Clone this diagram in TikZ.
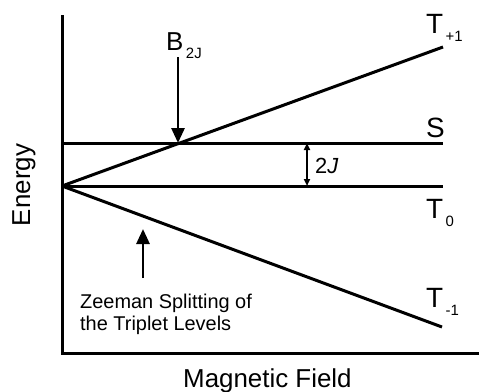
\documentclass[tikz,border=0pt]{standalone}
\usepackage{fontspec}
\setmainfont{Liberation Sans}
\usetikzlibrary{arrows.meta}
\tikzset{
  axisline/.style={line width=3bp, line cap=rect},
  levelline/.style={line width=3bp},
  bigarrow/.style={line width=2.8bp, -{Triangle[length=15bp,width=13bp]}},
  gaparrow/.style={line width=1.8bp, {Triangle[length=7bp,width=6bp]}-{Triangle[length=7bp,width=6bp]}},
  lbl/.style={inner sep=0pt, anchor=base west, font=\fontsize{28}{32}\selectfont},
}
\newcommand{\mysub}[1]{\raisebox{-8bp}{\fontsize{15}{17}\selectfont\,#1}}
\begin{document}
\begin{tikzpicture}[x=1bp,y=-1bp]
\useasboundingbox (0,0) rectangle (479,391);
% axes
\coordinate (ytop) at (62,16);
\coordinate (corner) at (62,353);
\coordinate (xend) at (479,353);
\draw[axisline] (ytop) -- (corner) -- (xend);
% levels
\coordinate (O) at (62,186);
\coordinate (Sl) at (62,143);
\coordinate (Sr) at (443,143);
\coordinate (T0r) at (443,186);
\coordinate (Tpr) at (443,47);
\coordinate (Tmr) at (442,327);
\draw[levelline] (Sl) -- (Sr);
\draw[levelline] (O) -- (T0r);
\draw[levelline] (O) -- (Tpr);
\draw[levelline] (O) -- (Tmr);
% labels
\node[lbl] (Tp) at (426,33) {T\mysub{+1}};
\node[lbl] (S) at (426,137) {S};
\node[lbl] (T0) at (426,218) {T\mysub{0}};
\node[lbl] (Tm) at (426,307) {T\mysub{-1}};
\node[lbl, font=\fontsize{26}{30}\selectfont] (B) at (166,50) {B\mysub{2J}};
% B2J arrow
\coordinate (Btail) at (178,57);
\coordinate (Bcross) at (178,143);
\draw[bigarrow] (Btail) -- (Bcross);
% 2J gap
\coordinate (gapS) at (307,143);
\coordinate (gapT) at (307,186);
\draw[gaparrow] (gapS) -- (gapT);
\node[lbl, font=\fontsize{22}{26}\selectfont] (J) at (315,173) {2\textit{J}};
% Zeeman arrow
\coordinate (Ztail) at (143,278);
\coordinate (Ztip) at (143,229);
\draw[bigarrow] (Ztail) -- (Ztip);
\node[lbl, font=\fontsize{20}{24}\selectfont] (Z1) at (80,308) {Zeeman Splitting of};
\node[lbl, font=\fontsize{20}{24}\selectfont] (Z2) at (80,330) {the Triplet Levels};
% axis titles
\node[lbl, font=\fontsize{26}{30}\selectfont] (MF) at (183,387) {Magnetic Field};
\node[inner sep=0pt, font=\fontsize{26}{30}\selectfont, rotate=90, anchor=base] (E) at (30,185) {Energy};
\end{tikzpicture}
\end{document}
